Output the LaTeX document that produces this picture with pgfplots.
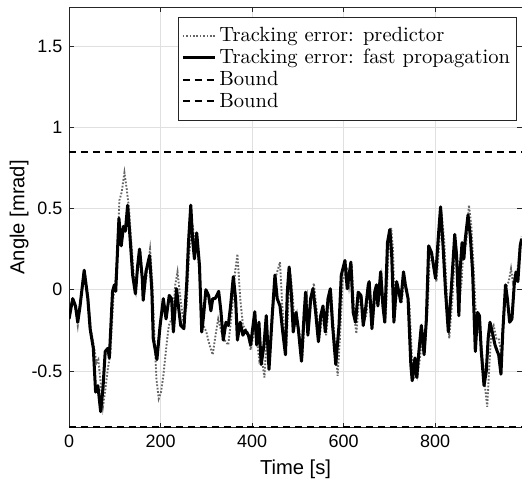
\documentclass[border=0pt]{standalone}
\usepackage{fontspec}
\usepackage{pgfplots}
\pgfplotsset{compat=1.18}
\usetikzlibrary{calc}
\newfontfamily\arial{Liberation Sans}
\definecolor{axgray}{gray}{0.15}
\definecolor{gridgray}{gray}{0.88}
\definecolor{predgray}{gray}{0.4}
\begin{document}
\begin{tikzpicture}
\begin{axis}[
  name=ax,
  scale only axis,
  width=240pt, height=223pt,
  xmin=0, xmax=990, ymin=-0.85, ymax=1.74,
  xtick={0,200,400,600,800},
  ytick={-0.5,0,0.5,1,1.5},
  yticklabels={-0.5,0,0.5,1,1.5},
  /pgf/number format/assume math mode=true,
  ticklabel style={font=\arial\fontsize{9.5}{11}\selectfont},
  tick align=inside,
  major tick length=2.6pt,
  tick style={axgray, line width=0.4pt},
  axis line style={axgray, line width=0.5pt},
  grid=major,
  major grid style={gridgray, line width=0.4pt},
  xlabel={Time [s]},
  ylabel={Angle [mrad]},
  label style={font=\arial\fontsize{10.7}{12}\selectfont},
  xlabel style={at={(axis description cs:0.5,-0.099)}, anchor=center},
  ylabel style={at={(axis description cs:-0.110,0.5)}, anchor=center},
  legend style={at={(axis description cs:0.2406,0.976)}, anchor=north west,
    draw=axgray, line width=0.4pt, fill=white,
    font=\fontsize{10.9}{12}\selectfont,
    inner xsep=1.5pt, inner ysep=3.8pt,
    row sep=-0.8pt,
    nodes={inner sep=1.6pt}},
  legend cell align=left,
  legend image code/.code={\draw[#1] (0pt,0pt) -- (17pt,0pt);},
]
\addplot[predgray, line width=1.0pt, dash pattern=on 0.9pt off 0.9pt] coordinates {
(0,-0.15) (8,-0.05) (14,-0.12) (19,-0.22) (24,-0.10) (34,0.12) (42,-0.05) (48,-0.25) (55,-0.36) (60,-0.45) (64,-0.43) (70,-0.60) (74,-0.72) (79,-0.62) (85,-0.48) (90,-0.40) (97,-0.05) (101,0.05) (105,0.20) (110,0.55) (115,0.60) (121,0.72) (126,0.62) (131,0.50) (136,0.30) (141,0.10) (146,0.00) (151,0.18) (156,0.24) (161,0.05) (164,-0.02) (170,0.10) (177,0.25) (182,0.05) (186,-0.25) (191,-0.55) (196,-0.67) (201,-0.63) (206,-0.53) (213,-0.34) (218,-0.22) (224,-0.18) (228,-0.12) (232,0.03) (237,0.11) (242,-0.02) (250,-0.20) (257,-0.10) (262,0.20) (266,0.32) (270,0.40) (275,0.28) (280,0.30) (285,0.10) (289,-0.16) (294,-0.22) (300,-0.26) (307,-0.34) (314,-0.40) (319,-0.30) (326,-0.18) (333,-0.26) (340,-0.31) (348,-0.34) (355,-0.16) (363,0.11) (368,0.22) (374,-0.05) (380,-0.22) (390,-0.26) (397,-0.37) (407,-0.22) (416,-0.44) (421,-0.42) (427,-0.54) (432,-0.30) (438,-0.45) (446,-0.12) (452,0.08) (461,0.17) (466,-0.10) (470,-0.25) (475,-0.35) (480,-0.05) (484,0.10) (489,-0.05) (493,-0.22) (498,-0.15) (504,-0.28) (510,-0.42) (516,-0.12) (520,-0.05) (524,-0.25) (530,-0.05) (535,0.04) (541,-0.12) (547,-0.30) (552,-0.20) (557,-0.12) (562,-0.28) (568,-0.08) (573,-0.02) (578,-0.22) (587,-0.53) (592,-0.30) (598,0.05) (607,0.14) (612,0.02) (618,0.15) (624,-0.18) (628,-0.27) (634,-0.05) (640,-0.05) (645,-0.20) (650,-0.15) (656,0.03) (664,-0.20) (670,-0.02) (676,-0.06) (683,0.08) (688,-0.12) (692,-0.18) (698,0.22) (704,0.38) (708,0.25) (712,-0.15) (718,0.02) (723,-0.04) (727,-0.08) (733,0.08) (738,0.00) (744,-0.10) (750,-0.45) (753,-0.55) (758,-0.45) (762,-0.52) (767,-0.42) (772,-0.25) (778,-0.35) (784,-0.10) (789,0.25) (794,0.22) (803,0.05) (809,0.28) (814,0.48) (820,0.30) (827,-0.10) (831,-0.30) (838,-0.05) (845,0.30) (849,0.18) (854,-0.05) (858,0.05) (862,0.25) (868,0.28) (874,0.52) (879,0.40) (884,0.15) (890,-0.20) (895,-0.25) (900,-0.30) (905,-0.45) (910,-0.62) (914,-0.72) (918,-0.50) (923,-0.25) (928,-0.22) (934,-0.30) (939,-0.30) (945,-0.40) (950,-0.15) (956,0.02) (961,0.05) (966,0.13) (970,0.05) (975,0.10) (980,0.12) (985,0.25) (989,0.33)
};
\addlegendentry{Tracking error: predictor}
\addplot[black, line width=1.6pt, line join=round] coordinates {
(0,-0.18) (5,-0.10) (8,-0.055) (14,-0.10) (19,-0.20) (24,-0.10) (33,0.12) (41,-0.055) (46,-0.24) (53,-0.36) (58,-0.63) (63,-0.59) (69,-0.75) (74,-0.61) (79,-0.38) (85,-0.36) (88,-0.42) (95,-0.01) (99,0.03) (102,-0.01) (109,0.44) (114,0.27) (119,0.39) (123,0.36) (128,0.52) (133,0.33) (139,0.09) (145,-0.025) (150,0.15) (154,0.25) (160,0.07) (162,-0.065) (168,0.11) (176,0.21) (181,-0.01) (184,-0.30) (192,-0.43) (199,-0.22) (206,-0.055) (212,-0.18) (219,-0.035) (224,-0.055) (228,-0.26) (235,0.006) (239,-0.10) (244,-0.22) (251,-0.24) (257,0.03) (261,0.29) (266,0.52) (270,0.31) (274,0.19) (279,0.35) (285,0.15) (290,-0.26) (294,-0.16) (299,0.0) (305,-0.035) (310,-0.13) (314,-0.055) (319,-0.055) (323,-0.035) (327,-0.01) (332,-0.135) (337,-0.31) (343,-0.20) (348,-0.22) (353,-0.10) (359,0.08) (364,-0.055) (368,-0.31) (374,-0.20) (380,-0.28) (385,-0.25) (392,-0.28) (397,-0.34) (403,-0.20) (406,-0.135) (410,-0.34) (415,-0.20) (420,-0.46) (426,-0.34) (431,-0.16) (437,-0.49) (444,-0.16) (450,0.09) (455,-0.055) (461,-0.10) (467,-0.26) (473,-0.40) (477,-0.015) (481,0.14) (486,-0.035) (490,-0.26) (496,-0.14) (501,-0.24) (508,-0.44) (514,-0.14) (517,-0.015) (522,-0.28) (528,-0.055) (533,0.006) (539,-0.14) (545,-0.32) (550,-0.16) (555,-0.10) (560,-0.26) (566,-0.055) (571,0.006) (576,-0.22) (583,-0.46) (590,-0.22) (595,0.09) (603,0.18) (608,0.006) (613,0.11) (616,0.17) (621,-0.14) (626,-0.20) (632,-0.015) (638,-0.035) (643,-0.22) (648,-0.12) (654,0.03) (656,0.05) (662,-0.24) (668,-0.015) (672,0.03) (675,-0.10) (681,0.11) (686,-0.10) (690,-0.20) (696,0.29) (701,0.37) (705,0.23) (710,-0.20) (716,0.05) (721,-0.015) (725,-0.075) (731,0.11) (735,0.03) (741,-0.055) (747,-0.46) (750,-0.56) (756,-0.42) (760,-0.54) (764,-0.40) (770,-0.22) (776,-0.40) (781,-0.18) (786,0.27) (792,0.23) (801,0.07) (807,0.32) (812,0.51) (817,0.29) (823,-0.015) (829,-0.26) (836,0.03) (843,0.34) (847,0.21) (852,-0.16) (855,0.13) (859,0.29) (863,0.19) (866,0.31) (872,0.46) (877,0.33) (882,0.11) (888,-0.38) (893,-0.14) (897,-0.16) (901,-0.38) (907,-0.59) (912,-0.50) (916,-0.30) (920,-0.20) (925,-0.26) (931,-0.34) (936,-0.38) (939,-0.40) (944,-0.52) (948,-0.26) (954,0.03) (958,-0.055) (963,-0.20) (968,-0.18) (973,0.03) (977,0.11) (981,0.05) (986,0.27) (989,0.31)
};
\addlegendentry{Tracking error: fast propagation}
\addplot[black, line width=1.0pt, dash pattern=on 3.7pt off 2.6pt] coordinates {(0,0.847) (990,0.847)};
\addlegendentry{Bound}
\addplot[black, line width=1.0pt, dash pattern=on 3.7pt off 2.6pt] coordinates {(0,-0.847) (990,-0.847)};
\addlegendentry{Bound\rule[-4.5pt]{0pt}{1pt}}
\end{axis}
\pgfresetboundingbox
\path[use as bounding box] ($(ax.south west)+(-36.6pt,-33.4pt)$) rectangle ($(ax.north east)+(0pt,3.7pt)$);
\end{tikzpicture}
\end{document}
